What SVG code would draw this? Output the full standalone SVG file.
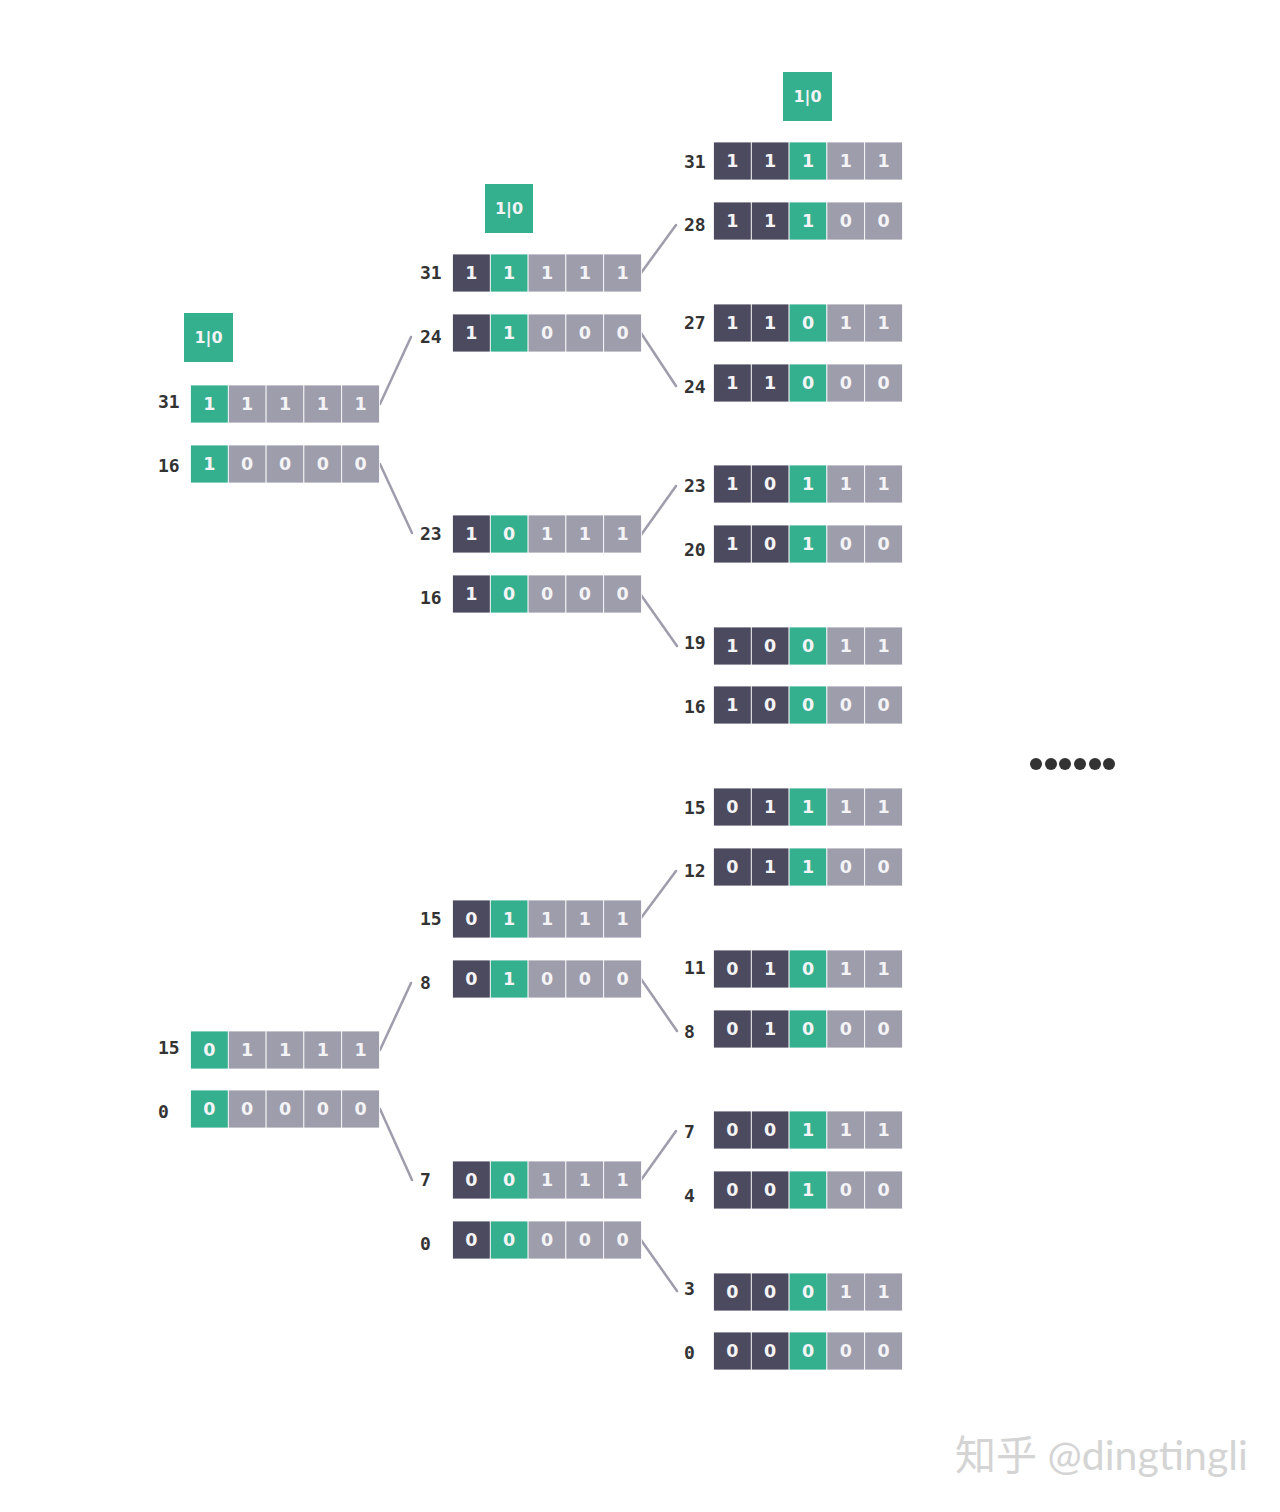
<svg xmlns="http://www.w3.org/2000/svg" width="1280" height="1512" viewBox="0 0 1280 1512">
<style>
.g{fill:#34b08f}.d{fill:#4c4a5e}.r{fill:#9e9dac}
.c{stroke:#fff;stroke-width:0.8}
.v{font-family:"DejaVu Sans",sans-serif;font-weight:bold;font-size:17.5px;fill:#f4f4f6;text-anchor:middle}
.l{font-family:"DejaVu Sans Mono",monospace;font-weight:bold;font-size:18px;fill:#333}
.b{font-family:"DejaVu Sans",sans-serif;font-weight:bold;font-size:16px;fill:#f4f4f6;text-anchor:middle}
.k{stroke:#9e9dac;stroke-width:2.5;fill:none;stroke-linecap:round}
</style>
<rect width="1280" height="1512" fill="#fff"/>
<g id="toggle1"><rect class="g" x="184" y="313" width="49" height="49"/><text class="b" x="208.5" y="343">1|0</text></g>
<g id="toggle2"><rect class="g" x="485" y="184" width="48" height="49"/><text class="b" x="509" y="214">1|0</text></g>
<g id="toggle3"><rect class="g" x="783" y="72" width="49" height="49"/><text class="b" x="807.5" y="102">1|0</text></g>
<g id="connectors">
<path class="k" d="M380 404L411 337M380 464L412 533M380 1050L411 983M380 1109L412 1180"/>
<path class="k" d="M641 273L676 225M641 333L676 386M641 535L676 486M641 595L677 646M641 918L676 871M641 979L677 1031M641 1180L676 1131M641 1240L677 1291"/>
</g>
<g id="c1-31"><text class="l" x="158" y="408">31</text><rect class="g c" x="190.5" y="385" width="37.8" height="38"/><rect class="r c" x="228.3" y="385" width="37.8" height="38"/><rect class="r c" x="266.1" y="385" width="37.8" height="38"/><rect class="r c" x="303.9" y="385" width="37.8" height="38"/><rect class="r c" x="341.7" y="385" width="37.8" height="38"/><text class="v" y="410"><tspan x="209.4">1</tspan><tspan x="247.2">1</tspan><tspan x="285">1</tspan><tspan x="322.8">1</tspan><tspan x="360.6">1</tspan></text></g>
<g id="c1-16"><text class="l" x="158" y="472">16</text><rect class="g c" x="190.5" y="445" width="37.8" height="38"/><rect class="r c" x="228.3" y="445" width="37.8" height="38"/><rect class="r c" x="266.1" y="445" width="37.8" height="38"/><rect class="r c" x="303.9" y="445" width="37.8" height="38"/><rect class="r c" x="341.7" y="445" width="37.8" height="38"/><text class="v" y="470"><tspan x="209.4">1</tspan><tspan x="247.2">0</tspan><tspan x="285">0</tspan><tspan x="322.8">0</tspan><tspan x="360.6">0</tspan></text></g>
<g id="c1-15"><text class="l" x="158" y="1054">15</text><rect class="g c" x="190.5" y="1031" width="37.8" height="38"/><rect class="r c" x="228.3" y="1031" width="37.8" height="38"/><rect class="r c" x="266.1" y="1031" width="37.8" height="38"/><rect class="r c" x="303.9" y="1031" width="37.8" height="38"/><rect class="r c" x="341.7" y="1031" width="37.8" height="38"/><text class="v" y="1056"><tspan x="209.4">0</tspan><tspan x="247.2">1</tspan><tspan x="285">1</tspan><tspan x="322.8">1</tspan><tspan x="360.6">1</tspan></text></g>
<g id="c1-0"><text class="l" x="158" y="1118">0</text><rect class="g c" x="190.5" y="1090" width="37.8" height="38"/><rect class="r c" x="228.3" y="1090" width="37.8" height="38"/><rect class="r c" x="266.1" y="1090" width="37.8" height="38"/><rect class="r c" x="303.9" y="1090" width="37.8" height="38"/><rect class="r c" x="341.7" y="1090" width="37.8" height="38"/><text class="v" y="1115"><tspan x="209.4">0</tspan><tspan x="247.2">0</tspan><tspan x="285">0</tspan><tspan x="322.8">0</tspan><tspan x="360.6">0</tspan></text></g>

<g id="c2-31"><text class="l" x="420" y="279">31</text><rect class="d c" x="452.5" y="254" width="37.8" height="38"/><rect class="g c" x="490.3" y="254" width="37.8" height="38"/><rect class="r c" x="528.1" y="254" width="37.8" height="38"/><rect class="r c" x="565.9" y="254" width="37.8" height="38"/><rect class="r c" x="603.7" y="254" width="37.8" height="38"/><text class="v" y="279"><tspan x="471.4">1</tspan><tspan x="509.2">1</tspan><tspan x="547">1</tspan><tspan x="584.8">1</tspan><tspan x="622.6">1</tspan></text></g>
<g id="c2-24"><text class="l" x="420" y="343">24</text><rect class="d c" x="452.5" y="314" width="37.8" height="38"/><rect class="g c" x="490.3" y="314" width="37.8" height="38"/><rect class="r c" x="528.1" y="314" width="37.8" height="38"/><rect class="r c" x="565.9" y="314" width="37.8" height="38"/><rect class="r c" x="603.7" y="314" width="37.8" height="38"/><text class="v" y="339"><tspan x="471.4">1</tspan><tspan x="509.2">1</tspan><tspan x="547">0</tspan><tspan x="584.8">0</tspan><tspan x="622.6">0</tspan></text></g>
<g id="c2-23"><text class="l" x="420" y="540">23</text><rect class="d c" x="452.5" y="515" width="37.8" height="38"/><rect class="g c" x="490.3" y="515" width="37.8" height="38"/><rect class="r c" x="528.1" y="515" width="37.8" height="38"/><rect class="r c" x="565.9" y="515" width="37.8" height="38"/><rect class="r c" x="603.7" y="515" width="37.8" height="38"/><text class="v" y="540"><tspan x="471.4">1</tspan><tspan x="509.2">0</tspan><tspan x="547">1</tspan><tspan x="584.8">1</tspan><tspan x="622.6">1</tspan></text></g>
<g id="c2-16"><text class="l" x="420" y="604">16</text><rect class="d c" x="452.5" y="575" width="37.8" height="38"/><rect class="g c" x="490.3" y="575" width="37.8" height="38"/><rect class="r c" x="528.1" y="575" width="37.8" height="38"/><rect class="r c" x="565.9" y="575" width="37.8" height="38"/><rect class="r c" x="603.7" y="575" width="37.8" height="38"/><text class="v" y="600"><tspan x="471.4">1</tspan><tspan x="509.2">0</tspan><tspan x="547">0</tspan><tspan x="584.8">0</tspan><tspan x="622.6">0</tspan></text></g>
<g id="c2-15"><text class="l" x="420" y="925">15</text><rect class="d c" x="452.5" y="900" width="37.8" height="38"/><rect class="g c" x="490.3" y="900" width="37.8" height="38"/><rect class="r c" x="528.1" y="900" width="37.8" height="38"/><rect class="r c" x="565.9" y="900" width="37.8" height="38"/><rect class="r c" x="603.7" y="900" width="37.8" height="38"/><text class="v" y="925"><tspan x="471.4">0</tspan><tspan x="509.2">1</tspan><tspan x="547">1</tspan><tspan x="584.8">1</tspan><tspan x="622.6">1</tspan></text></g>
<g id="c2-8"><text class="l" x="420" y="989">8</text><rect class="d c" x="452.5" y="960" width="37.8" height="38"/><rect class="g c" x="490.3" y="960" width="37.8" height="38"/><rect class="r c" x="528.1" y="960" width="37.8" height="38"/><rect class="r c" x="565.9" y="960" width="37.8" height="38"/><rect class="r c" x="603.7" y="960" width="37.8" height="38"/><text class="v" y="985"><tspan x="471.4">0</tspan><tspan x="509.2">1</tspan><tspan x="547">0</tspan><tspan x="584.8">0</tspan><tspan x="622.6">0</tspan></text></g>
<g id="c2-7"><text class="l" x="420" y="1186">7</text><rect class="d c" x="452.5" y="1161" width="37.8" height="38"/><rect class="g c" x="490.3" y="1161" width="37.8" height="38"/><rect class="r c" x="528.1" y="1161" width="37.8" height="38"/><rect class="r c" x="565.9" y="1161" width="37.8" height="38"/><rect class="r c" x="603.7" y="1161" width="37.8" height="38"/><text class="v" y="1186"><tspan x="471.4">0</tspan><tspan x="509.2">0</tspan><tspan x="547">1</tspan><tspan x="584.8">1</tspan><tspan x="622.6">1</tspan></text></g>
<g id="c2-0"><text class="l" x="420" y="1250">0</text><rect class="d c" x="452.5" y="1221" width="37.8" height="38"/><rect class="g c" x="490.3" y="1221" width="37.8" height="38"/><rect class="r c" x="528.1" y="1221" width="37.8" height="38"/><rect class="r c" x="565.9" y="1221" width="37.8" height="38"/><rect class="r c" x="603.7" y="1221" width="37.8" height="38"/><text class="v" y="1246"><tspan x="471.4">0</tspan><tspan x="509.2">0</tspan><tspan x="547">0</tspan><tspan x="584.8">0</tspan><tspan x="622.6">0</tspan></text></g>

<g id="c3-31"><text class="l" x="684" y="168">31</text><rect class="d c" x="713.5" y="142" width="37.8" height="38"/><rect class="d c" x="751.3" y="142" width="37.8" height="38"/><rect class="g c" x="789.1" y="142" width="37.8" height="38"/><rect class="r c" x="826.9" y="142" width="37.8" height="38"/><rect class="r c" x="864.7" y="142" width="37.8" height="38"/><text class="v" y="167"><tspan x="732.4">1</tspan><tspan x="770.2">1</tspan><tspan x="808">1</tspan><tspan x="845.8">1</tspan><tspan x="883.6">1</tspan></text></g>
<g id="c3-28"><text class="l" x="684" y="231">28</text><rect class="d c" x="713.5" y="202" width="37.8" height="38"/><rect class="d c" x="751.3" y="202" width="37.8" height="38"/><rect class="g c" x="789.1" y="202" width="37.8" height="38"/><rect class="r c" x="826.9" y="202" width="37.8" height="38"/><rect class="r c" x="864.7" y="202" width="37.8" height="38"/><text class="v" y="227"><tspan x="732.4">1</tspan><tspan x="770.2">1</tspan><tspan x="808">1</tspan><tspan x="845.8">0</tspan><tspan x="883.6">0</tspan></text></g>
<g id="c3-27"><text class="l" x="684" y="329">27</text><rect class="d c" x="713.5" y="304" width="37.8" height="38"/><rect class="d c" x="751.3" y="304" width="37.8" height="38"/><rect class="g c" x="789.1" y="304" width="37.8" height="38"/><rect class="r c" x="826.9" y="304" width="37.8" height="38"/><rect class="r c" x="864.7" y="304" width="37.8" height="38"/><text class="v" y="329"><tspan x="732.4">1</tspan><tspan x="770.2">1</tspan><tspan x="808">0</tspan><tspan x="845.8">1</tspan><tspan x="883.6">1</tspan></text></g>
<g id="c3-24"><text class="l" x="684" y="393">24</text><rect class="d c" x="713.5" y="364" width="37.8" height="38"/><rect class="d c" x="751.3" y="364" width="37.8" height="38"/><rect class="g c" x="789.1" y="364" width="37.8" height="38"/><rect class="r c" x="826.9" y="364" width="37.8" height="38"/><rect class="r c" x="864.7" y="364" width="37.8" height="38"/><text class="v" y="389"><tspan x="732.4">1</tspan><tspan x="770.2">1</tspan><tspan x="808">0</tspan><tspan x="845.8">0</tspan><tspan x="883.6">0</tspan></text></g>
<g id="c3-23"><text class="l" x="684" y="492">23</text><rect class="d c" x="713.5" y="465" width="37.8" height="38"/><rect class="d c" x="751.3" y="465" width="37.8" height="38"/><rect class="g c" x="789.1" y="465" width="37.8" height="38"/><rect class="r c" x="826.9" y="465" width="37.8" height="38"/><rect class="r c" x="864.7" y="465" width="37.8" height="38"/><text class="v" y="490"><tspan x="732.4">1</tspan><tspan x="770.2">0</tspan><tspan x="808">1</tspan><tspan x="845.8">1</tspan><tspan x="883.6">1</tspan></text></g>
<g id="c3-20"><text class="l" x="684" y="556">20</text><rect class="d c" x="713.5" y="525" width="37.8" height="38"/><rect class="d c" x="751.3" y="525" width="37.8" height="38"/><rect class="g c" x="789.1" y="525" width="37.8" height="38"/><rect class="r c" x="826.9" y="525" width="37.8" height="38"/><rect class="r c" x="864.7" y="525" width="37.8" height="38"/><text class="v" y="550"><tspan x="732.4">1</tspan><tspan x="770.2">0</tspan><tspan x="808">1</tspan><tspan x="845.8">0</tspan><tspan x="883.6">0</tspan></text></g>
<g id="c3-19"><text class="l" x="684" y="649">19</text><rect class="d c" x="713.5" y="627" width="37.8" height="38"/><rect class="d c" x="751.3" y="627" width="37.8" height="38"/><rect class="g c" x="789.1" y="627" width="37.8" height="38"/><rect class="r c" x="826.9" y="627" width="37.8" height="38"/><rect class="r c" x="864.7" y="627" width="37.8" height="38"/><text class="v" y="652"><tspan x="732.4">1</tspan><tspan x="770.2">0</tspan><tspan x="808">0</tspan><tspan x="845.8">1</tspan><tspan x="883.6">1</tspan></text></g>
<g id="c3-16"><text class="l" x="684" y="713">16</text><rect class="d c" x="713.5" y="686" width="37.8" height="38"/><rect class="d c" x="751.3" y="686" width="37.8" height="38"/><rect class="g c" x="789.1" y="686" width="37.8" height="38"/><rect class="r c" x="826.9" y="686" width="37.8" height="38"/><rect class="r c" x="864.7" y="686" width="37.8" height="38"/><text class="v" y="711"><tspan x="732.4">1</tspan><tspan x="770.2">0</tspan><tspan x="808">0</tspan><tspan x="845.8">0</tspan><tspan x="883.6">0</tspan></text></g>
<g id="c3-15"><text class="l" x="684" y="814">15</text><rect class="d c" x="713.5" y="788" width="37.8" height="38"/><rect class="d c" x="751.3" y="788" width="37.8" height="38"/><rect class="g c" x="789.1" y="788" width="37.8" height="38"/><rect class="r c" x="826.9" y="788" width="37.8" height="38"/><rect class="r c" x="864.7" y="788" width="37.8" height="38"/><text class="v" y="813"><tspan x="732.4">0</tspan><tspan x="770.2">1</tspan><tspan x="808">1</tspan><tspan x="845.8">1</tspan><tspan x="883.6">1</tspan></text></g>
<g id="c3-12"><text class="l" x="684" y="877">12</text><rect class="d c" x="713.5" y="848" width="37.8" height="38"/><rect class="d c" x="751.3" y="848" width="37.8" height="38"/><rect class="g c" x="789.1" y="848" width="37.8" height="38"/><rect class="r c" x="826.9" y="848" width="37.8" height="38"/><rect class="r c" x="864.7" y="848" width="37.8" height="38"/><text class="v" y="873"><tspan x="732.4">0</tspan><tspan x="770.2">1</tspan><tspan x="808">1</tspan><tspan x="845.8">0</tspan><tspan x="883.6">0</tspan></text></g>
<g id="c3-11"><text class="l" x="684" y="974">11</text><rect class="d c" x="713.5" y="950" width="37.8" height="38"/><rect class="d c" x="751.3" y="950" width="37.8" height="38"/><rect class="g c" x="789.1" y="950" width="37.8" height="38"/><rect class="r c" x="826.9" y="950" width="37.8" height="38"/><rect class="r c" x="864.7" y="950" width="37.8" height="38"/><text class="v" y="975"><tspan x="732.4">0</tspan><tspan x="770.2">1</tspan><tspan x="808">0</tspan><tspan x="845.8">1</tspan><tspan x="883.6">1</tspan></text></g>
<g id="c3-8"><text class="l" x="684" y="1038">8</text><rect class="d c" x="713.5" y="1010" width="37.8" height="38"/><rect class="d c" x="751.3" y="1010" width="37.8" height="38"/><rect class="g c" x="789.1" y="1010" width="37.8" height="38"/><rect class="r c" x="826.9" y="1010" width="37.8" height="38"/><rect class="r c" x="864.7" y="1010" width="37.8" height="38"/><text class="v" y="1035"><tspan x="732.4">0</tspan><tspan x="770.2">1</tspan><tspan x="808">0</tspan><tspan x="845.8">0</tspan><tspan x="883.6">0</tspan></text></g>
<g id="c3-7"><text class="l" x="684" y="1138">7</text><rect class="d c" x="713.5" y="1111" width="37.8" height="38"/><rect class="d c" x="751.3" y="1111" width="37.8" height="38"/><rect class="g c" x="789.1" y="1111" width="37.8" height="38"/><rect class="r c" x="826.9" y="1111" width="37.8" height="38"/><rect class="r c" x="864.7" y="1111" width="37.8" height="38"/><text class="v" y="1136"><tspan x="732.4">0</tspan><tspan x="770.2">0</tspan><tspan x="808">1</tspan><tspan x="845.8">1</tspan><tspan x="883.6">1</tspan></text></g>
<g id="c3-4"><text class="l" x="684" y="1202">4</text><rect class="d c" x="713.5" y="1171" width="37.8" height="38"/><rect class="d c" x="751.3" y="1171" width="37.8" height="38"/><rect class="g c" x="789.1" y="1171" width="37.8" height="38"/><rect class="r c" x="826.9" y="1171" width="37.8" height="38"/><rect class="r c" x="864.7" y="1171" width="37.8" height="38"/><text class="v" y="1196"><tspan x="732.4">0</tspan><tspan x="770.2">0</tspan><tspan x="808">1</tspan><tspan x="845.8">0</tspan><tspan x="883.6">0</tspan></text></g>
<g id="c3-3"><text class="l" x="684" y="1295">3</text><rect class="d c" x="713.5" y="1273" width="37.8" height="38"/><rect class="d c" x="751.3" y="1273" width="37.8" height="38"/><rect class="g c" x="789.1" y="1273" width="37.8" height="38"/><rect class="r c" x="826.9" y="1273" width="37.8" height="38"/><rect class="r c" x="864.7" y="1273" width="37.8" height="38"/><text class="v" y="1298"><tspan x="732.4">0</tspan><tspan x="770.2">0</tspan><tspan x="808">0</tspan><tspan x="845.8">1</tspan><tspan x="883.6">1</tspan></text></g>
<g id="c3-0"><text class="l" x="684" y="1359">0</text><rect class="d c" x="713.5" y="1332" width="37.8" height="38"/><rect class="d c" x="751.3" y="1332" width="37.8" height="38"/><rect class="g c" x="789.1" y="1332" width="37.8" height="38"/><rect class="r c" x="826.9" y="1332" width="37.8" height="38"/><rect class="r c" x="864.7" y="1332" width="37.8" height="38"/><text class="v" y="1357"><tspan x="732.4">0</tspan><tspan x="770.2">0</tspan><tspan x="808">0</tspan><tspan x="845.8">0</tspan><tspan x="883.6">0</tspan></text></g>

<g id="ellipsis" fill="#333"><circle cx="1036" cy="764" r="6"/><circle cx="1051" cy="764" r="6"/><circle cx="1065" cy="764" r="6"/><circle cx="1080" cy="764" r="6"/><circle cx="1095" cy="764" r="6"/><circle cx="1109" cy="764" r="6"/></g>
<g id="watermark"><text x="955" y="1470" font-family="Lato,'Noto Sans CJK SC',sans-serif" font-size="41" fill="#d4d4d4">知乎 @dingtingli</text></g>
</svg>
